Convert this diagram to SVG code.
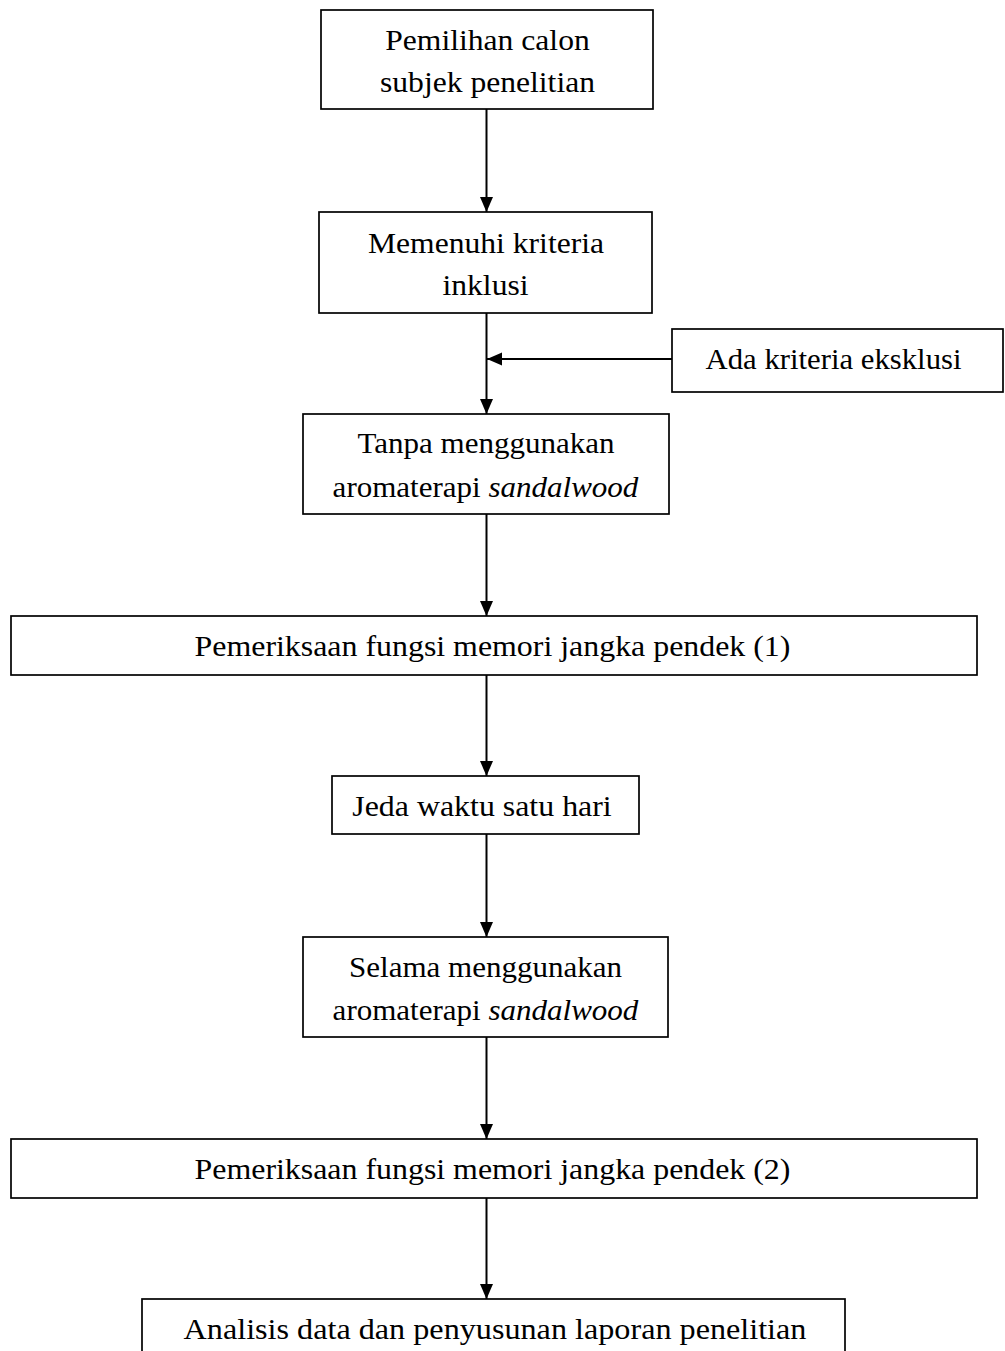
<svg xmlns="http://www.w3.org/2000/svg" width="1005" height="1351" viewBox="0 0 1005 1351">
<style>
.box{fill:#fff;stroke:#000;stroke-width:1.7}
.t{font-size:29px;fill:#000;text-anchor:middle}
.i{font-style:italic}
.c{stroke:#000;stroke-width:2;fill:none;marker-end:url(#ah)}
</style>
<defs>
<marker id="ah" markerUnits="userSpaceOnUse" markerWidth="16" markerHeight="14" refX="15" refY="6.5" orient="auto">
<path d="M0,0 L15,6.5 L0,13 z" fill="#000"/>
</marker>
</defs>
<rect width="1005" height="1351" fill="#fff"/>
<g id="connectors">
<line class="c" x1="486.5" y1="109" x2="486.5" y2="212"/>
<line x1="486.5" y1="313" x2="486.5" y2="380" stroke="#000" stroke-width="2"/>
<line class="c" x1="486.5" y1="380" x2="486.5" y2="414"/>
<line class="c" x1="672" y1="359" x2="487" y2="359"/>
<line class="c" x1="486.5" y1="514" x2="486.5" y2="616"/>
<line class="c" x1="486.5" y1="675" x2="486.5" y2="776"/>
<line class="c" x1="486.5" y1="834" x2="486.5" y2="937"/>
<line class="c" x1="486.5" y1="1037" x2="486.5" y2="1139"/>
<line class="c" x1="486.5" y1="1198" x2="486.5" y2="1299"/>
</g>
<g id="n1">
<rect class="box" x="321" y="10" width="332" height="99"/>
<text class="t" font-family="Liberation Serif" transform="translate(487.5,50) scale(1.09,1)">Pemilihan calon</text>
<text class="t" font-family="Liberation Serif" transform="translate(487.5,92) scale(1.09,1)">subjek penelitian</text>
</g>
<g id="n2">
<rect class="box" x="319" y="212" width="333" height="101"/>
<text class="t" font-family="Liberation Serif" transform="translate(486,253) scale(1.09,1)">Memenuhi kriteria</text>
<text class="t" font-family="Liberation Serif" transform="translate(485.5,295) scale(1.09,1)">inklusi</text>
</g>
<g id="n_excl">
<rect class="box" x="672" y="329" width="331" height="63"/>
<text class="t" font-family="Liberation Serif" transform="translate(833.5,369) scale(1.06,1)">Ada kriteria eksklusi</text>
</g>
<g id="n3">
<rect class="box" x="303" y="414" width="366" height="100"/>
<text class="t" font-family="Liberation Serif" transform="translate(486,453) scale(1.07,1)">Tanpa menggunakan</text>
<text class="t" font-family="Liberation Serif" transform="translate(485.5,497) scale(1.07,1)">aromaterapi <tspan class="i">sandalwood</tspan></text>
</g>
<g id="n4">
<rect class="box" x="11" y="616" width="966" height="59"/>
<text class="t" font-family="Liberation Serif" transform="translate(492.5,656) scale(1.1,1)">Pemeriksaan fungsi memori jangka pendek (1)</text>
</g>
<g id="n5">
<rect class="box" x="332" y="776" width="307" height="58"/>
<text class="t" font-family="Liberation Serif" transform="translate(482,816) scale(1.1,1)">Jeda waktu satu hari</text>
</g>
<g id="n6">
<rect class="box" x="303" y="937" width="365" height="100"/>
<text class="t" font-family="Liberation Serif" transform="translate(485.5,977) scale(1.07,1)">Selama menggunakan</text>
<text class="t" font-family="Liberation Serif" transform="translate(485.5,1020) scale(1.07,1)">aromaterapi <tspan class="i">sandalwood</tspan></text>
</g>
<g id="n7">
<rect class="box" x="11" y="1139" width="966" height="59"/>
<text class="t" font-family="Liberation Serif" transform="translate(492.5,1179) scale(1.1,1)">Pemeriksaan fungsi memori jangka pendek (2)</text>
</g>
<g id="n8">
<rect class="box" x="142" y="1299" width="703" height="70"/>
<text class="t" font-family="Liberation Serif" transform="translate(495,1339) scale(1.11,1)">Analisis data dan penyusunan laporan penelitian</text>
</g>
</svg>
